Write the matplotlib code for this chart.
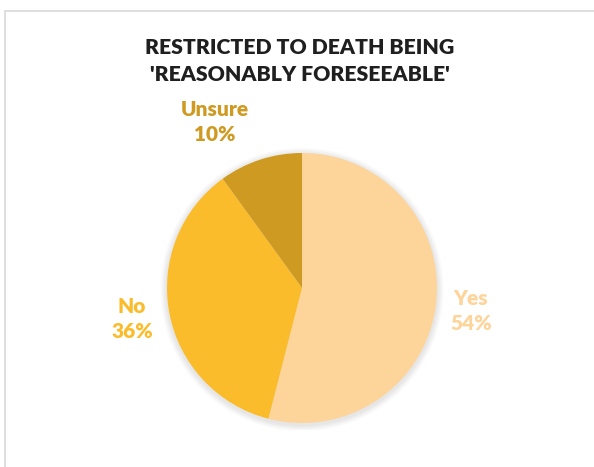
import matplotlib
matplotlib.use('Agg')
import matplotlib.pyplot as plt
from matplotlib.patches import Circle, Rectangle

# 数据
labels = ['Yes', 'No', 'Unsure']
values = [54, 36, 10]
colors = ['#FDD49A', '#FBBC2B', '#CF9A22']
label_pos = [(471, 311), (132, 319), (215, 122)]   # 像素坐标 (标签中心)
title = "RESTRICTED TO DEATH BEING\n'REASONABLY FORESEEABLE'"

W, H = 594, 467
DPI = 100
plt.rcParams['font.family'] = ['Lato', 'DejaVu Sans']

fig = plt.figure(figsize=(W / DPI, H / DPI), dpi=DPI)
fig.patch.set_facecolor('white')

# 图表边框
fig.add_artist(Rectangle((5 / W, -0.1), 1.2, (H - 11) / H + 0.1,
                         transform=fig.transFigure, fill=False,
                         edgecolor='#D9D9D9', linewidth=1.2))

# 饼图: 中心 (302, 288), 半径 135 px
cx, cy, r = 302, 288, 135
lim = 1.05
ax = fig.add_axes([(cx - r * lim) / W, (H - cy - r * lim) / H,
                   2 * r * lim / W, 2 * r * lim / H])
ax.axis('off')

# 阴影
for i, a in enumerate([0.05, 0.05, 0.05, 0.04]):
    ax.add_patch(Circle((0.0, -0.012), 1.0 + 0.012 * (i + 1), color='#7F7F7F',
                        alpha=a, zorder=0, linewidth=0))

ax.pie(values, colors=colors, startangle=90, counterclock=False, radius=1.0,
       wedgeprops=dict(linewidth=0, zorder=2))
ax.set_xlim(-lim, lim)
ax.set_ylim(-lim, lim)
ax.set_aspect('equal')

# 标题
fig.text(300 / W, 1 - 61 / H, title, ha='center', va='center',
         fontsize=15.3, fontweight='heavy', color='#1F1F1F', linespacing=1.55)

# 数据标签
for lab, v, c, (x, y) in zip(labels, values, colors, label_pos):
    fig.text(x / W, 1 - y / H, f'{lab}\n{v}%', ha='center', va='center',
             fontsize=15, fontweight='heavy', color=c, linespacing=1.35)

fig.savefig('out.png', dpi=DPI)
